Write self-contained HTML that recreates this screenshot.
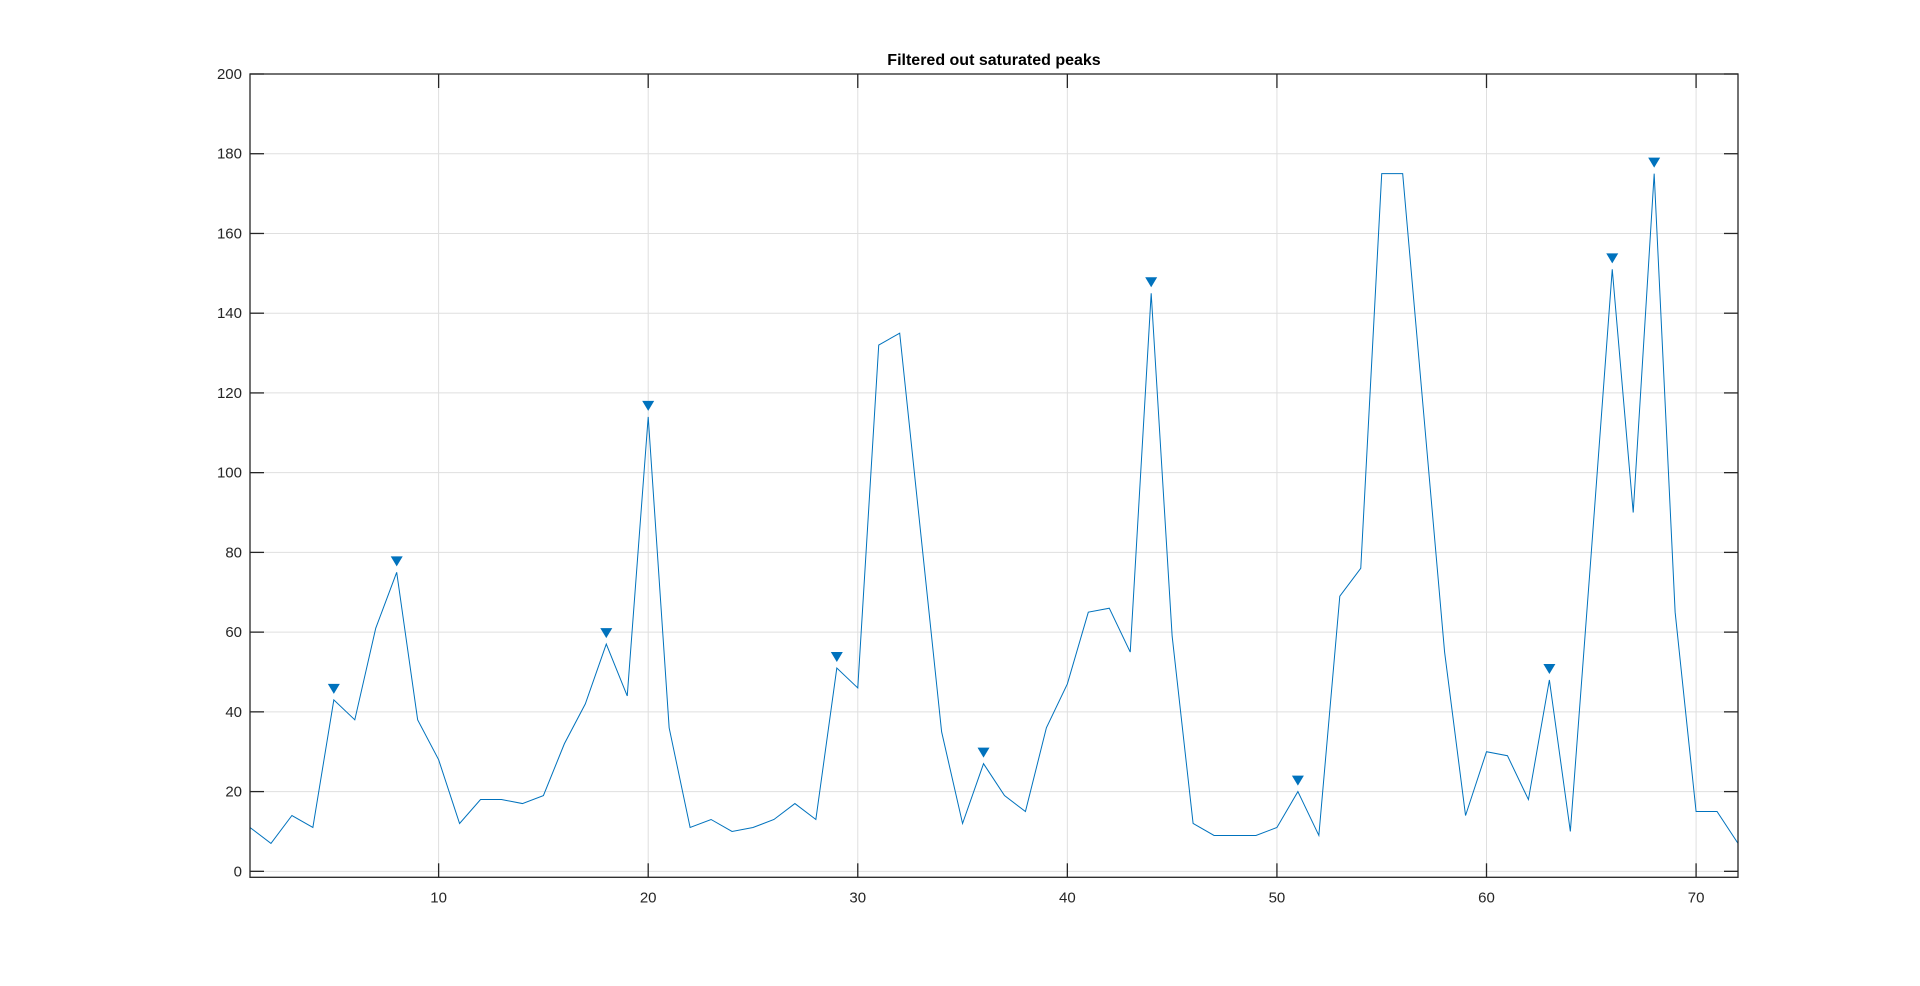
<!DOCTYPE html>
<html><head><meta charset="utf-8"><style>
html,body{margin:0;padding:0;background:#fff;}
svg{display:block;font-family:"Liberation Sans",Arial,sans-serif;}
</style></head><body>
<svg id="chart" width="1920" height="986" viewBox="0 0 1920 986"></svg>
<script>
const xValues = [1,2,3,4,5,6,7,8,9,10,11,12,13,14,15,16,17,18,19,20,21,22,23,24,25,26,27,28,29,30,31,32,33,34,35,36,37,38,39,40,41,42,43,44,45,46,47,48,49,50,51,52,53,54,55,56,57,58,59,60,61,62,63,64,65,66,67,68,69,70,71,72];
const yValues = [11,7,14,11,43,38,61,75,38,28,12,18,18,17,19,32,42,57,44,114,36,11,13,10,11,13,17,13,51,46,132,135,85,35,12,27,19,15,36,47,65,66,55,145,59,12,9,9,9,11,20,9,69,76,175,175,115,55,14,30,29,18,48,10,80,151,90,175,65,15,15,7];
const peakX = [5,8,18,20,29,36,44,51,63,66,68];
const xTicks = [10,20,30,40,50,60,70];
const yTicks = [0,20,40,60,80,100,120,140,160,180,200];
const titleText = "Filtered out saturated peaks";

const L=250,R=1738,T=74,B=877.3;
const xMin=1,xMax=72,yMin=-1.5,yMax=200;
const sx=v=>L+(v-xMin)/(xMax-xMin)*(R-L);
const sy=v=>B-(v-yMin)/(yMax-yMin)*(B-T);
const NS="http://www.w3.org/2000/svg";
const svg=document.getElementById('chart');
function mk(tag,attrs,parent){const e=document.createElementNS(NS,tag);for(const k in attrs)e.setAttribute(k,attrs[k]);(parent||svg).appendChild(e);return e;}

const grid=mk('g',{});


xTicks.forEach(t=>{const l=mk('line',{x1:sx(t),x2:sx(t),y1:T,y2:B,stroke:'#dfdfdf','stroke-width':1},grid);

});
yTicks.forEach(t=>{const l=mk('line',{x1:L,x2:R,y1:sy(t),y2:sy(t),stroke:'#dfdfdf','stroke-width':1},grid);

});

const pts=xValues.map((x,i)=>sx(x).toFixed(2)+','+sy(yValues[i]).toFixed(2)).join(' ');
const line=mk('polyline',{points:pts,fill:'none',stroke:'#0072BD','stroke-width':1});



peakX.forEach(px=>{const v=yValues[xValues.indexOf(px)];const cx=sx(px),cy=sy(v)-11;
const p=mk('polygon',{points:`${cx-6},${cy-5} ${cx+6},${cy-5} ${cx},${cy+5}`,fill:'#0072BD'});

});

const ax=mk('g',{});


mk('rect',{x:L,y:T,width:R-L,height:B-T,fill:'none',stroke:'#262626','stroke-width':1.3},ax);
xTicks.forEach(t=>{const x=sx(t);
mk('line',{x1:x,x2:x,y1:B,y2:B-14,stroke:'#262626','stroke-width':1.3},ax);
mk('line',{x1:x,x2:x,y1:T,y2:T+14,stroke:'#262626','stroke-width':1.3},ax);
const tx=mk('text',{x:x,y:B+25,'text-anchor':'middle','font-size':15,fill:'#262626'},ax);tx.textContent=t;

});
yTicks.forEach(t=>{const y=sy(t);
mk('line',{x1:L,x2:L+14,y1:y,y2:y,stroke:'#262626','stroke-width':1.3},ax);
mk('line',{x1:R,x2:R-14,y1:y,y2:y,stroke:'#262626','stroke-width':1.3},ax);
const tx=mk('text',{x:L-8,y:y+5,'text-anchor':'end','font-size':15,fill:'#262626'},ax);tx.textContent=t;

});

const title=mk('text',{x:(L+R)/2,y:65,'text-anchor':'middle','font-size':16,'font-weight':'bold',fill:'#000'});
title.textContent=titleText;


</script>
</body></html>
